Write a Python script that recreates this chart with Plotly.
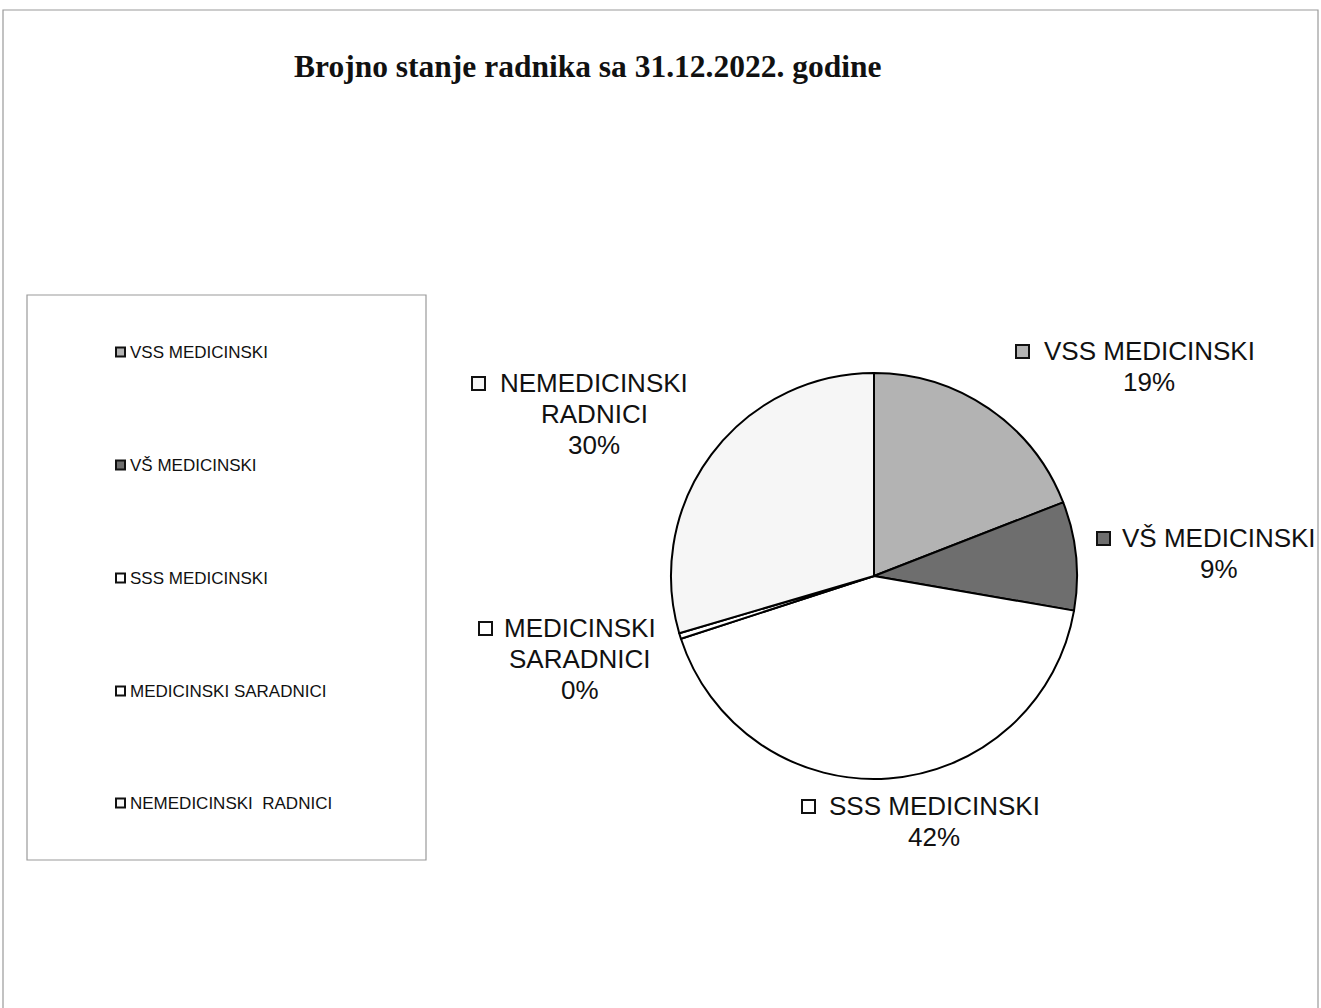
import plotly.graph_objects as go

W, H = 1321, 1008

title_text = "Brojno stanje radnika sa 31.12.2022. godine"
categories = ["VSS MEDICINSKI", "VŠ MEDICINSKI", "SSS MEDICINSKI",
              "MEDICINSKI SARADNICI", "NEMEDICINSKI  RADNICI"]
counts = [42, 19, 93, 1, 65]
colors = ["#b3b3b3", "#6e6e6e", "#ffffff", "#ffffff", "#f6f6f6"]
# label line breaks as in the chart
pie_label_lines = [["VSS MEDICINSKI"], ["VŠ MEDICINSKI"], ["SSS MEDICINSKI"],
                   ["MEDICINSKI", "SARADNICI"], ["NEMEDICINSKI", "RADNICI"]]


def px(x):
    return x / W


def py(y):
    return 1 - y / H


total = sum(counts)
pcts = [int(c / total * 100 + 0.5) for c in counts]

# pie geometry (pixels)
cx, cy, r = 874, 576, 203

fig = go.Figure()
fig.add_trace(go.Pie(
    labels=categories, values=counts, sort=False, direction="clockwise",
    rotation=0, textinfo="none", hoverinfo="label+percent",
    marker=dict(colors=colors, line=dict(color="#000000", width=2)),
    domain=dict(x=[px(cx - r), px(cx + r)], y=[py(cy + r), py(cy - r)]),
    showlegend=False,
))

shapes = []
annotations = []

# outer frame
shapes.append(dict(type="rect", xref="paper", yref="paper",
                   x0=px(3), x1=px(1318), y0=py(1012), y1=py(10),
                   line=dict(color="#9a9a9a", width=1.2), fillcolor="rgba(0,0,0,0)"))

# title
annotations.append(dict(xref="paper", yref="paper", x=px(588), y=py(67),
                        xanchor="center", yanchor="middle", showarrow=False,
                        text="<b>" + title_text + "</b>",
                        font=dict(family="Liberation Serif", size=31.5, color="#111111")))

# legend box
shapes.append(dict(type="rect", xref="paper", yref="paper",
                   x0=px(27), x1=px(426), y0=py(860), y1=py(295),
                   line=dict(color="#9a9a9a", width=1.2), fillcolor="rgba(0,0,0,0)"))
leg_y = [352, 465, 578, 691, 803]
for name, col, yy in zip(categories, colors, leg_y):
    shapes.append(dict(type="rect", xref="paper", yref="paper",
                       x0=px(116), x1=px(125), y0=py(yy + 4.5), y1=py(yy - 4.5),
                       line=dict(color="#111111", width=2), fillcolor=col))
    annotations.append(dict(xref="paper", yref="paper", x=px(128), y=py(yy),
                            xanchor="left", yanchor="middle", showarrow=False,
                            text=name.replace("  ", " \u00a0"),
                            font=dict(family="Liberation Sans", size=17, color="#111111")))

# pie data labels: (text center x, first line y, key left x)
label_pos = [(1149, 351, 1016), (1219, 538, 1097), (934, 806, 802),
             (580, 628, 479), (594, 383, 472)]
line_h = 31
for lines, pct, col, (tx, ty, kx) in zip(pie_label_lines, pcts, colors, label_pos):
    all_lines = lines + [f"{pct}%"]
    for i, ln in enumerate(all_lines):
        annotations.append(dict(xref="paper", yref="paper", x=px(tx), y=py(ty + i * line_h),
                                xanchor="center", yanchor="middle", showarrow=False,
                                align="center", text=ln,
                                font=dict(family="Liberation Sans", size=26, color="#111111")))
    shapes.append(dict(type="rect", xref="paper", yref="paper",
                       x0=px(kx), x1=px(kx + 13), y0=py(ty + 7), y1=py(ty - 6),
                       line=dict(color="#111111", width=2), fillcolor=col))

fig.update_layout(
    width=W, height=H, margin=dict(l=0, r=0, t=0, b=0),
    paper_bgcolor="#ffffff", plot_bgcolor="#ffffff",
    shapes=shapes, annotations=annotations,
)

fig.write_html("out.html", config={"displayModeBar": False},
               post_script="document.body.style.margin='0';document.body.style.overflow='hidden';")
